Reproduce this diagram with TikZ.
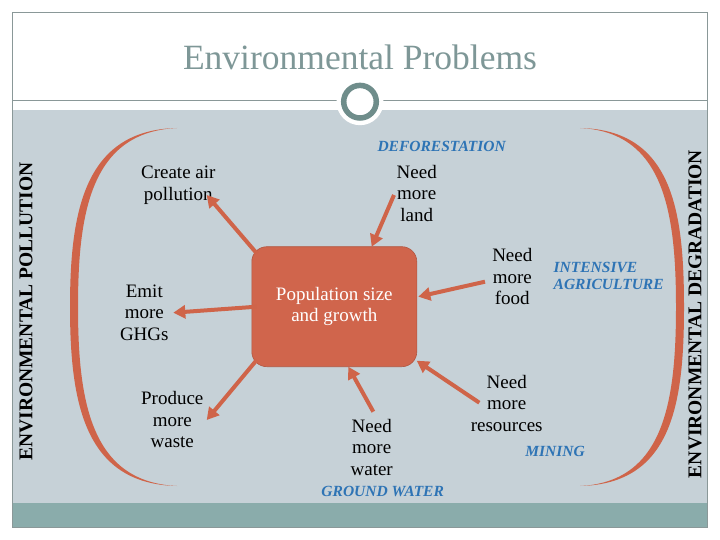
\documentclass[tikz,border=0pt]{standalone}
\usepackage{fontspec}
\setmainfont{Liberation Serif}
\usetikzlibrary{arrows.meta}
\definecolor{framec}{HTML}{8A9898}
\definecolor{bodyc}{HTML}{C6D1D7}
\definecolor{bandc}{HTML}{8AACAB}
\definecolor{titlec}{HTML}{7E9797}
\definecolor{ringc}{HTML}{6F8D8B}
\definecolor{orangec}{HTML}{CF6449}
\definecolor{boxc}{HTML}{D0654C}
\definecolor{bluec}{HTML}{2E74B5}
\tikzset{
  txt/.style={inner sep=0pt, align=center, font=\fontsize{19}{21.5}\selectfont},
  lbl/.style={inner sep=0pt, align=center, text=bluec, font=\fontsize{15.5}{17}\selectfont\bfseries\itshape},
  side/.style={inner sep=0pt, rotate=90, font=\fontsize{19.5}{22}\selectfont\bfseries},
  conn/.style={draw=orangec, line width=4pt, -{Triangle[length=12pt,width=13pt]}},
}
\begin{document}
\begin{tikzpicture}[x=1pt,y=-1pt]
\useasboundingbox (0,0) rectangle (720,540);
\fill[white] (0,0) rectangle (720,540);
\fill[bodyc] (12.3,110) rectangle (707.7,503.3);
\fill[bandc] (12.3,503.3) rectangle (707.7,527.3);
\draw[framec, line width=0.8pt] (12.3,12.7) rectangle (707.7,527.3);
\draw[framec, line width=0.8pt] (12.3,100) -- (707.7,100);
\fill[white] (360,101.7) circle (23.5pt);
\draw[ringc, line width=5.5pt] (360,101.7) circle (16.3pt);
\node[inner sep=0pt, text=titlec, font=\fontsize{35.5}{40}\selectfont] (title) at (360,57) {Environmental Problems};

% brackets
\fill[orangec] (177,128) .. controls (85,130) and (70,210) .. (70,307)
  .. controls (70,404) and (85,484) .. (177,486)
  .. controls (92,482) and (78,404) .. (78,307)
  .. controls (78,210) and (92,132) .. cycle;
\fill[orangec] (580,128) .. controls (672,130) and (684,210) .. (684,307)
  .. controls (684,404) and (672,484) .. (580,486)
  .. controls (663,482) and (676,404) .. (676,307)
  .. controls (676,210) and (663,132) .. cycle;

% side labels
\node[side] (pollution) at (26,311.5) {ENVIRONMENTAL POLLUTION};
\node[side] (degradation) at (695,314) {ENVIRONMENTAL DEGRADATION};

% central box
\node[fill=boxc, draw=boxc!85!black, line width=0.6pt, rounded corners=15pt, minimum width=165pt, minimum height=120pt, inner sep=0pt,
  text=white, align=center, font=\fontsize{19}{20.7}\selectfont] (pop) at (334.3,306.7) {Population size\\and growth};

% text nodes
\node[txt] (air) at (178.3,185) {Create air\\pollution};
\node[txt] (ghg) at (144.3,312.7) {Emit\\more\\GHGs};
\node[txt] (waste) at (172.3,419.7) {Produce\\more\\waste};
\node[txt] (land) at (416.7,193.3) {Need\\more\\land};
\node[txt] (food) at (512.3,276.7) {Need\\more\\food};
\node[txt] (res) at (506.7,403) {Need\\more\\resources};
\node[txt] (water) at (371.7,447.3) {Need\\more\\water};

\node[lbl] (defo) at (441.7,146.7) {DEFORESTATION};
\node[lbl, align=left, anchor=west] (agri) at (553.5,276) {INTENSIVE\\AGRICULTURE};
\node[lbl] (mining) at (555,451) {MINING};
\node[lbl] (ground) at (382.7,491) {GROUND WATER};

% arrow end points
\coordinate (pAir) at (256.7,253.3);
\coordinate (tAir) at (206.7,195);
\coordinate (pGhg) at (256.7,306.7);
\coordinate (tGhg) at (173.3,312.7);
\coordinate (pWaste) at (256.7,360);
\coordinate (tWaste) at (206.7,420);
\coordinate (sLand) at (394,195);
\coordinate (hLand) at (371.7,246.7);
\coordinate (sFood) at (485,281.7);
\coordinate (hFood) at (418.3,296.7);
\coordinate (sRes) at (479.3,402.7);
\coordinate (hRes) at (416.7,360.7);
\coordinate (sWater) at (373.3,411.7);
\coordinate (hWater) at (348.3,366.7);

\draw[conn] (pAir) -- (tAir);
\draw[conn] (pGhg) -- (tGhg);
\draw[conn] (pWaste) -- (tWaste);
\draw[conn] (sLand) -- (hLand);
\draw[conn] (sFood) -- (hFood);
\draw[conn] (sRes) -- (hRes);
\draw[conn] (sWater) -- (hWater);
\end{tikzpicture}
\end{document}
